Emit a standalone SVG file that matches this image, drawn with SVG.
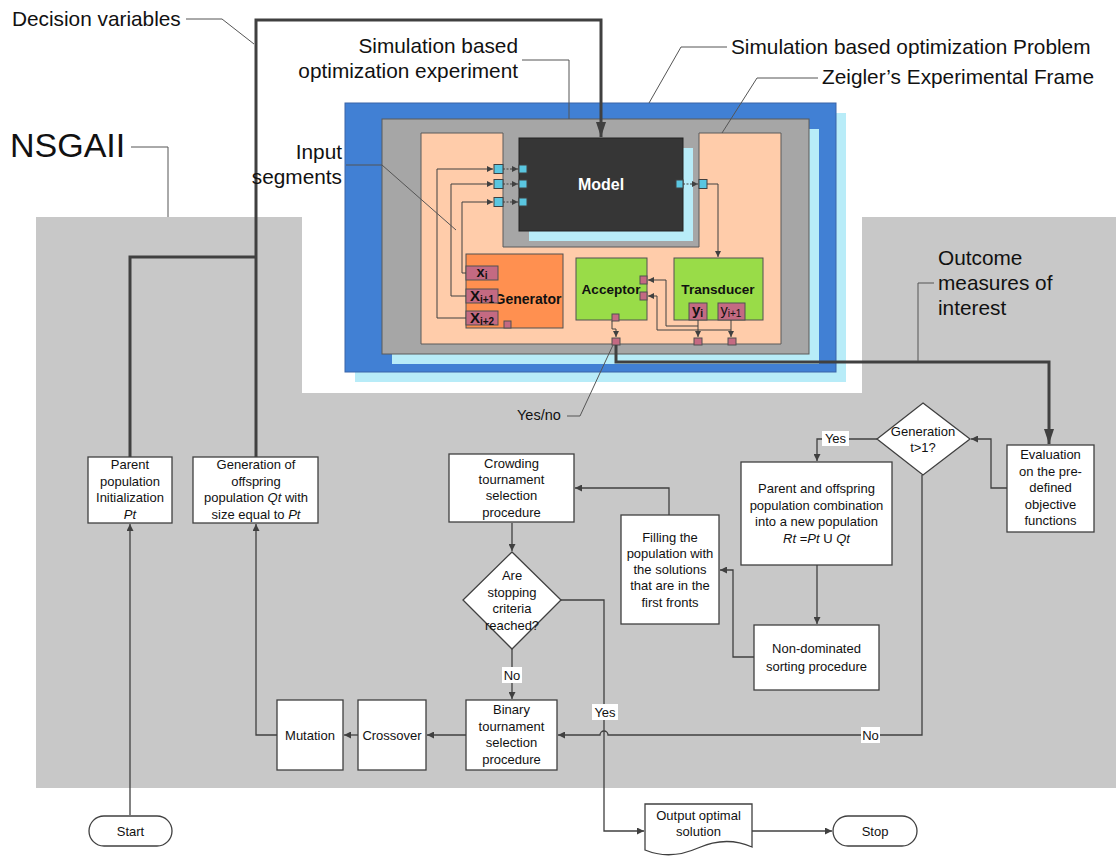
<svg xmlns="http://www.w3.org/2000/svg" width="1116" height="856" viewBox="0 0 1116 856">
  <style>
    text { font-family: "Liberation Sans", Arial, sans-serif; fill: #111; }
    .lbl { font-size: 20.8px; }
    .t { font-size: 13px; text-anchor: middle; }
    .bd { font-weight: bold; }
    .it { font-style: italic; }
    .box { fill: #fff; stroke: #404040; stroke-width: 1.3; }
    .ln { fill: none; stroke: #404040; stroke-width: 1.3; }
    .thin { fill: none; stroke: #404040; stroke-width: 1; }
    .dash { fill: none; stroke: #404040; stroke-width: 1; stroke-dasharray: 2 1.5; }
    .thick { fill: none; stroke: #404040; stroke-width: 3; }
    .lead { fill: none; stroke: #555; stroke-width: 1; }
    .cy { fill: #5ac6e0; stroke: #404040; stroke-width: 1; }
    .pk { fill: #c46a82; stroke: #505050; stroke-width: 1; }
    .tag { fill: #fff; }
  </style>
  <defs>
    <marker id="ah" viewBox="0 0 8 8" refX="8" refY="4" markerWidth="7" markerHeight="7" markerUnits="userSpaceOnUse" orient="auto">
      <path d="M0,0 L8,4 L0,8 Z" fill="#404040"/>
    </marker>
    <marker id="ahs" viewBox="0 0 8 8" refX="8" refY="4" markerWidth="6" markerHeight="6" markerUnits="userSpaceOnUse" orient="auto">
      <path d="M0,0 L8,4 L0,8 Z" fill="#404040"/>
    </marker>
    <marker id="ahb" viewBox="0 0 15 10" refX="15" refY="5" markerWidth="15" markerHeight="10" markerUnits="userSpaceOnUse" orient="auto">
      <path d="M0,0 L15,5 L0,10 Z" fill="#404040"/>
    </marker>
  </defs>

  <!-- background: NSGAII area with the frame picture on white -->
  <rect x="0" y="0" width="1116" height="856" fill="#fff"/>
  <rect x="36" y="217" width="1080" height="571" fill="#c8c8c8"/>
  <rect x="302" y="217" width="560" height="176" fill="#fff"/>

  <!-- simulation based optimization problem -->
  <g id="problem">
    <rect x="355" y="113" width="491" height="269" fill="#b8ecf8"/>
    <rect x="345" y="103" width="491" height="269" fill="#4180d4" stroke="#3a64a8" stroke-width="1"/>
  </g>

  <!-- simulation based optimization experiment -->
  <g id="experiment">
    <rect x="392" y="129" width="427" height="235" fill="#b8ecf8"/>
    <rect x="382" y="119" width="427" height="235" fill="#a6a6a6" stroke="#5a5a5a" stroke-width="1"/>
  </g>

  <!-- experimental frame -->
  <g id="frame">
    <polygon points="421,133 503,133 503,247 699,247 699,133 781,133 781,344 421,344" fill="#ffccaa" stroke="#5a5a5a" stroke-width="1"/>
  </g>

  <g id="model">
    <rect x="529" y="148" width="164" height="93" fill="#b8ecf8"/>
    <rect x="519" y="138" width="164" height="93" fill="#363636" stroke="#222" stroke-width="1"/>
    <text x="601" y="190" text-anchor="middle" class="bd" style="font-size:16px;fill:#fff">Model</text>
    <rect class="cy" x="519" y="165" width="8" height="8"/>
    <rect class="cy" x="519" y="180" width="8" height="8"/>
    <rect class="cy" x="519" y="198" width="8" height="8"/>
    <rect class="cy" x="676" y="180" width="7" height="8"/>
  </g>

  <g id="frame-ports">
    <rect class="cy" x="494" y="164.5" width="9" height="9"/>
    <rect class="cy" x="494" y="179.5" width="9" height="9"/>
    <rect class="cy" x="494" y="197.5" width="9" height="9"/>
    <rect class="cy" x="699" y="179.5" width="8" height="9"/>
    <rect class="pk" x="612" y="338" width="8" height="7"/>
    <rect class="pk" x="694" y="338" width="8" height="7"/>
    <rect class="pk" x="728" y="338" width="8" height="7"/>
  </g>

  <g id="generator">
    <rect x="466" y="254" width="97" height="74" fill="#ff9050" stroke="#505050" stroke-width="1"/>
    <text x="528" y="304" text-anchor="middle" class="bd" style="font-size:14px">Generator</text>
    <rect class="pk" x="466" y="266" width="32" height="14"/>
    <text x="482" y="277" text-anchor="middle" class="bd" style="font-size:14.5px">x<tspan style="font-size:10px" dy="2">i</tspan></text>
    <rect class="pk" x="466" y="289" width="32" height="14"/>
    <text x="482" y="301" text-anchor="middle" class="bd" style="font-size:15px">X<tspan style="font-size:10px" dy="1.5">i+1</tspan></text>
    <rect class="pk" x="466" y="311" width="32" height="14"/>
    <text x="482" y="323" text-anchor="middle" class="bd" style="font-size:15px">X<tspan style="font-size:10px" dy="1.5">i+2</tspan></text>
    <rect class="pk" x="504" y="321" width="7" height="7"/>
  </g>

  <g id="acceptor">
    <rect x="576" y="258" width="71" height="62" fill="#99dc48" stroke="#505050" stroke-width="1"/>
    <text x="611" y="294" text-anchor="middle" class="bd" style="font-size:13.6px">Acceptor</text>
    <rect class="pk" x="640" y="276" width="7" height="8"/>
    <rect class="pk" x="640" y="292" width="7" height="8"/>
    <rect class="pk" x="612" y="314" width="7" height="7"/>
  </g>

  <g id="transducer">
    <rect x="674" y="258" width="89" height="62" fill="#99dc48" stroke="#505050" stroke-width="1"/>
    <text x="718" y="294" text-anchor="middle" class="bd" style="font-size:13.6px">Transducer</text>
    <rect class="pk" x="689" y="303" width="18" height="17"/>
    <text x="697.5" y="315" text-anchor="middle" class="bd" style="font-size:15px">y<tspan style="font-size:10px" dy="2">i</tspan></text>
    <rect class="pk" x="718" y="303" width="27" height="17"/>
    <text x="731" y="315" text-anchor="middle" style="font-size:14.5px">y<tspan style="font-size:10px" dy="1.5">i+1</tspan></text>
  </g>

  <!-- flowchart nodes -->
  <g id="parent-init">
    <rect class="box" x="88" y="457" width="84" height="66"/>
    <text class="t" x="130" y="468.5">Parent</text>
    <text class="t" x="130" y="485.5">population</text>
    <text class="t" x="130" y="501.5">Initialization</text>
    <text class="t it" x="130" y="518.5">Pt</text>
  </g>
  <g id="offspring">
    <rect class="box" x="193" y="457" width="125" height="66"/>
    <text class="t" x="256" y="468.5">Generation of</text>
    <text class="t" x="256" y="485.5">offspring</text>
    <text class="t" x="256" y="501.5">population <tspan class="it">Qt</tspan> with</text>
    <text class="t" x="256" y="518.5">size equal to <tspan class="it">Pt</tspan></text>
  </g>
  <g id="start">
    <rect class="box" x="89" y="816" width="83" height="30" rx="15"/>
    <text class="t" x="130.5" y="835.5">Start</text>
  </g>
  <g id="mutation">
    <rect class="box" x="277" y="700" width="66" height="70"/>
    <text class="t" x="310" y="739.5">Mutation</text>
  </g>
  <g id="crossover">
    <rect class="box" x="358" y="700" width="68" height="70"/>
    <text class="t" x="392" y="739.5">Crossover</text>
  </g>
  <g id="binary">
    <rect class="box" x="466" y="700" width="91" height="70"/>
    <text class="t" x="511.5" y="713.5">Binary</text>
    <text class="t" x="511.5" y="730.5">tournament</text>
    <text class="t" x="511.5" y="747">selection</text>
    <text class="t" x="511.5" y="763.5">procedure</text>
  </g>
  <g id="crowding">
    <rect class="box" x="449" y="454" width="125" height="68"/>
    <text class="t" x="511.5" y="467.5">Crowding</text>
    <text class="t" x="511.5" y="483.5">tournament</text>
    <text class="t" x="511.5" y="499.5">selection</text>
    <text class="t" x="511.5" y="516.5">procedure</text>
  </g>
  <g id="stopping">
    <polygon class="box" points="512,552 561,600 512,649 463,600"/>
    <text class="t" x="512" y="579.5">Are</text>
    <text class="t" x="512" y="597">stopping</text>
    <text class="t" x="512" y="613">criteria</text>
    <text class="t" x="512" y="629.5">reached?</text>
  </g>
  <g id="filling">
    <rect class="box" x="621" y="515" width="98" height="109"/>
    <text class="t" x="670" y="541.5">Filling the</text>
    <text class="t" x="670" y="557.5">population with</text>
    <text class="t" x="670" y="573.5">the solutions</text>
    <text class="t" x="670" y="590">that are in the</text>
    <text class="t" x="670" y="606.5">first fronts</text>
  </g>
  <g id="combination">
    <rect class="box" x="741" y="462" width="151" height="103"/>
    <text class="t" x="816.5" y="492.5">Parent and offspring</text>
    <text class="t" x="816.5" y="509.5">population combination</text>
    <text class="t" x="816.5" y="525.5">into a new population</text>
    <text class="t" x="816.5" y="542.5"><tspan class="it">Rt</tspan> =<tspan class="it">Pt</tspan> U <tspan class="it">Qt</tspan></text>
  </g>
  <g id="non-dominated">
    <rect class="box" x="754" y="625" width="125" height="65"/>
    <text class="t" x="816.5" y="652.5">Non-dominated</text>
    <text class="t" x="816.5" y="670.5">sorting procedure</text>
  </g>
  <g id="generation-check">
    <polygon class="box" points="923,403 970,439 923,475 877,439"/>
    <text class="t" x="923" y="435.5">Generation</text>
    <text class="t" x="923" y="451.5">t&gt;1?</text>
  </g>
  <g id="evaluation">
    <rect class="box" x="1007" y="445" width="87" height="87"/>
    <text class="t" x="1050.5" y="458.5">Evaluation</text>
    <text class="t" x="1050.5" y="475.5">on the pre-</text>
    <text class="t" x="1050.5" y="492">defined</text>
    <text class="t" x="1050.5" y="508.5">objective</text>
    <text class="t" x="1050.5" y="524.5">functions</text>
  </g>
  <g id="output">
    <path class="box" d="M645,804 H752 V847 C734,839 716,840 698,848 C680,856 662,857 645,850 Z"/>
    <text class="t" x="698.5" y="819.5">Output optimal</text>
    <text class="t" x="698.5" y="836">solution</text>
  </g>
  <g id="stop">
    <rect class="box" x="833" y="816" width="84" height="30" rx="15"/>
    <text class="t" x="875" y="835.5">Stop</text>
  </g>

  <!-- connectors -->
  <g id="connectors">
    <!-- inside the experimental frame -->
    <path class="thin" d="M466,318 H437 V169 H493" marker-end="url(#ahs)"/>
    <path class="thin" d="M466,296 H451 V184 H493" marker-end="url(#ahs)"/>
    <path class="thin" d="M466,273 H462 V202 H493" marker-end="url(#ahs)"/>
    <path class="dash" d="M503,169 H518" marker-end="url(#ahs)"/>
    <path class="dash" d="M503,184 H518" marker-end="url(#ahs)"/>
    <path class="dash" d="M503,202 H518" marker-end="url(#ahs)"/>
    <path class="dash" d="M683,184 H698" marker-end="url(#ahs)"/>
    <path class="thin" d="M707,184 H718 V257" marker-end="url(#ahs)"/>
    <path class="thin" d="M612,321 V329 H616 V337" marker-end="url(#ahs)"/>
    <path class="thin" d="M698,320 V337" marker-end="url(#ahs)"/>
    <path class="thin" d="M731,320 V337" marker-end="url(#ahs)"/>
    <path class="thin" d="M698,326 H666 V280 H648" marker-end="url(#ahs)"/>
    <path class="thin" d="M731,330 H657 V296 H648" marker-end="url(#ahs)"/>

    <!-- decision variables and outcome measures -->
    <path class="thick" d="M130,457 V257 H256"/>
    <path class="thick" d="M256,457 V20 H601 V137" marker-end="url(#ahb)"/>
    <path class="thick" d="M616,345 V362 H1049 V444" marker-end="url(#ahb)"/>

    <!-- NSGAII flow -->
    <path class="ln" d="M130,815 V524" marker-end="url(#ah)"/>
    <path class="ln" d="M277,735 H256 V524" marker-end="url(#ah)"/>
    <path class="ln" d="M358,735 H344" marker-end="url(#ah)"/>
    <path class="ln" d="M466,735 H427" marker-end="url(#ah)"/>
    <path class="ln" d="M512,523 V551" marker-end="url(#ah)"/>
    <path class="ln" d="M512,649 V699" marker-end="url(#ah)"/>
    <path class="ln" d="M561,600 H604 V831 H644" marker-end="url(#ah)"/>
    <path class="ln" d="M922,475 V735 H608 A4,4 0 0 0 600,735 H558" marker-end="url(#ah)"/>
    <path class="ln" d="M669,515 V488 H575" marker-end="url(#ah)"/>
    <path class="ln" d="M754,657 H733 V570 H720" marker-end="url(#ah)"/>
    <path class="ln" d="M817,565 V624" marker-end="url(#ah)"/>
    <path class="ln" d="M877,439 H817 V461" marker-end="url(#ah)"/>
    <path class="ln" d="M1007,488 H991 V439 H971" marker-end="url(#ah)"/>
    <path class="ln" d="M752,831 H832" marker-end="url(#ah)"/>

    <!-- branch labels -->
    <rect class="tag" x="822" y="431" width="27" height="15"/>
    <text class="t" x="835.5" y="443">Yes</text>
    <rect class="tag" x="502" y="667" width="20" height="16"/>
    <text class="t" x="512" y="680">No</text>
    <rect class="tag" x="592" y="704" width="26" height="16"/>
    <text class="t" x="605" y="717">Yes</text>
    <rect class="tag" x="861" y="727" width="19" height="16"/>
    <text class="t" x="870.5" y="740">No</text>
  </g>

  <!-- callout labels -->
  <g id="callouts">
    <text class="lbl" x="12" y="26">Decision variables</text>
    <path class="lead" d="M186,19 H222 L254,44"/>

    <text class="lbl" x="518" y="53" text-anchor="end">Simulation based</text>
    <text class="lbl" x="518" y="78" text-anchor="end">optimization experiment</text>
    <path class="lead" d="M522,60 H569 V119"/>

    <text x="10" y="157" style="font-size:34px">NSGAII</text>
    <path class="lead" d="M131,147 H168 V217"/>

    <text class="lbl" x="342" y="159" text-anchor="end">Input</text>
    <text class="lbl" x="342" y="184" text-anchor="end">segments</text>
    <path class="lead" d="M346,165 H382 L456,230"/>

    <text class="lbl" x="731" y="54">Simulation based optimization Problem</text>
    <path class="lead" d="M727,47 H681 L649,103"/>

    <text class="lbl" x="822" y="84">Zeigler’s Experimental Frame</text>
    <path class="lead" d="M818,78 H757 L722,133"/>

    <text class="lbl" x="938" y="265">Outcome</text>
    <text class="lbl" x="938" y="290">measures of</text>
    <text class="lbl" x="938" y="315">interest</text>
    <path class="lead" d="M934,283 H918 V361"/>

    <text x="517" y="420" style="font-size:14.5px">Yes/no</text>
    <path class="lead" d="M567,416 H580 L613,345"/>
  </g>
</svg>
